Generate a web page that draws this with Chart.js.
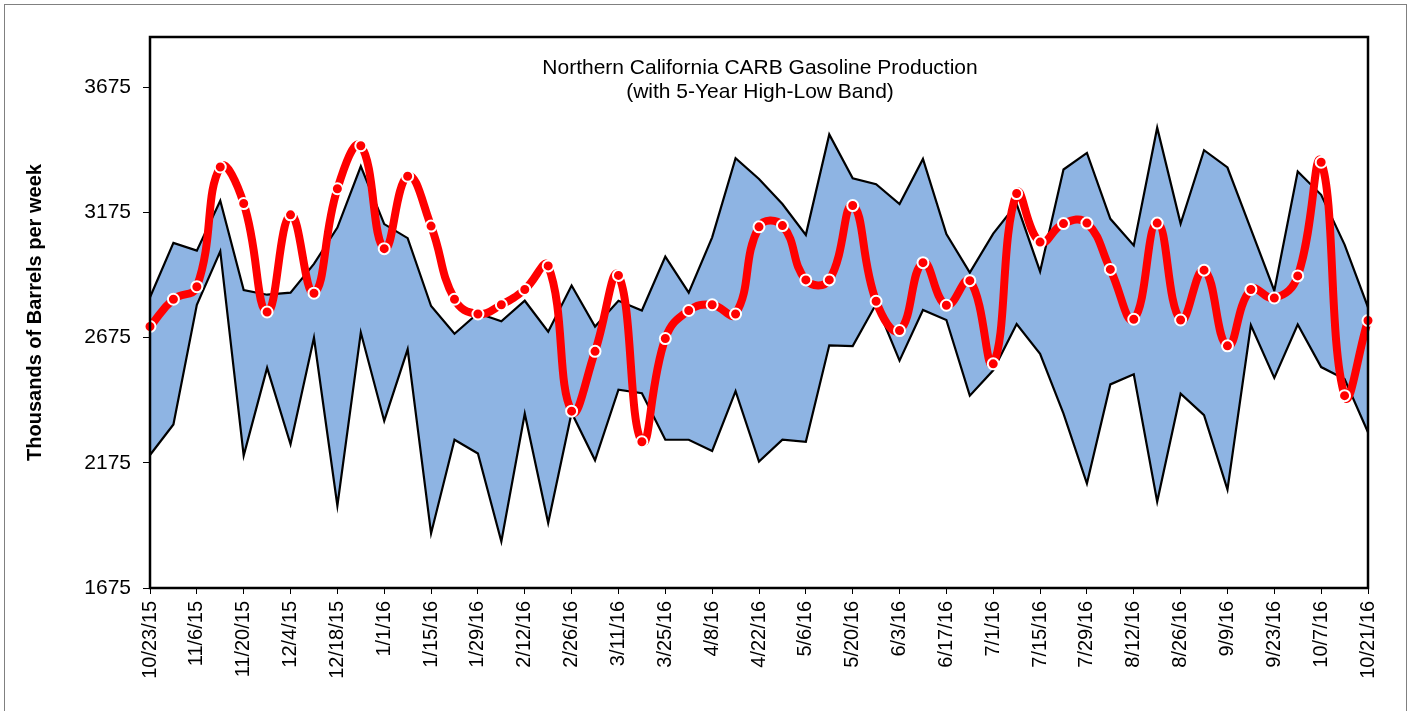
<!DOCTYPE html>
<html>
<head>
<meta charset="utf-8">
<title>Northern California CARB Gasoline Production</title>
<script src="https://cdn.jsdelivr.net/npm/chart.js@4.4.0/dist/chart.umd.min.js"></script>
<style>
  html, body { margin: 0; padding: 0; background: #fff; }
  #wrap { width: 1413px; height: 711px; }
</style>
</head>
<body>
<div id="wrap"><canvas id="carbChart" width="1413" height="711"></canvas></div>
<script>
// Weekly dates (every week, labels shown every 2nd)
const weeks = ['10/23/15', '10/30/15', '11/6/15', '11/13/15', '11/20/15', '11/27/15', '12/4/15', '12/11/15',
    '12/18/15', '12/25/15', '1/1/16', '1/8/16', '1/15/16', '1/22/16', '1/29/16', '2/5/16', '2/12/16',
    '2/19/16', '2/26/16', '3/4/16', '3/11/16', '3/18/16', '3/25/16', '4/1/16', '4/8/16', '4/15/16',
    '4/22/16', '4/29/16', '5/6/16', '5/13/16', '5/20/16', '5/27/16', '6/3/16', '6/10/16', '6/17/16',
    '6/24/16', '7/1/16', '7/8/16', '7/15/16', '7/22/16', '7/29/16', '8/5/16', '8/12/16', '8/19/16',
    '8/26/16', '9/2/16', '9/9/16', '9/16/16', '9/23/16', '9/30/16', '10/7/16', '10/14/16', '10/21/16'];

// Production, thousands of barrels per week
const production = [2719, 2828, 2878, 3356, 3210, 2777, 3165, 2852, 3269, 3441, 3030, 3319, 3120,
    2828, 2769, 2806, 2867, 2961, 2381, 2620, 2923, 2259, 2671, 2783, 2806, 2769, 3117,
    3122, 2905, 2905, 3202, 2820, 2703, 2974, 2804, 2902, 2570, 3250, 3056,
    3130, 3132, 2947, 2748, 3132, 2745, 2944, 2642, 2867, 2833, 2921, 3375, 2443, 2743];

// 5-year high / low band
const fiveYearHigh = [2836, 3053, 3022, 3221, 2865, 2846, 2854, 2969, 3114, 3359, 3128, 3072, 2801, 2690,
    2772, 2740, 2822, 2698, 2883, 2719, 2822, 2783, 2998, 2854, 3075, 3391, 3308,
    3208, 3085, 3486, 3311, 3287, 3208, 3388, 3088, 2934, 3090, 3208, 2939,
    3346, 3412, 3149, 3043, 3513, 3130, 3423, 3354, 3108, 2862, 3338, 3245, 3046, 2796];

const fiveYearLow = [2206, 2328, 2806, 3019, 2204, 2554, 2249, 2674, 2004, 2695, 2342, 2628, 1893, 2267,
    2212, 1861, 2371, 1935, 2375, 2185, 2467, 2453, 2267, 2267, 2222, 2461, 2180,
    2267, 2259, 2644, 2641, 2809, 2583, 2785, 2745, 2443, 2544, 2729, 2610,
    2371, 2092, 2488, 2528, 2020, 2451, 2365, 2068, 2724, 2514, 2727, 2557, 2509, 2297];

const yTicks = [1675, 2175, 2675, 3175, 3675];

const fontFamily = 'Arial, "Liberation Sans", sans-serif';

// Outer frame, plot border and the inner title
const framePlugin = {
    id: 'frame',
    beforeDraw(chart) {
        const ctx = chart.ctx;
        ctx.save();
        ctx.fillStyle = '#fff';
        ctx.fillRect(0, 0, chart.width, chart.height);
        ctx.strokeStyle = '#808080';
        ctx.lineWidth = 1;
        ctx.strokeRect(4.5, 4.5, 1402, 740);
        ctx.restore();
    },
    afterDraw(chart) {
        const ctx = chart.ctx;
        const a = chart.chartArea;
        ctx.save();
        ctx.strokeStyle = '#000';
        ctx.lineWidth = 2.5;
        ctx.strokeRect(a.left, a.top, a.right - a.left, a.bottom - a.top);
        ctx.fillStyle = '#000';
        ctx.font = '21px ' + fontFamily;
        ctx.textAlign = 'center';
        ctx.textBaseline = 'middle';
        const cx = (a.left + a.right) / 2 + 1;
        ctx.fillText('Northern California CARB Gasoline Production', cx, 68);
        ctx.fillText('(with 5-Year High-Low Band)', cx, 92);
        ctx.restore();
    }
};

const ctx = document.getElementById('carbChart').getContext('2d');
new Chart(ctx, {
    type: 'line',
    data: {
        labels: weeks,
        datasets: [{
            label: 'Production',
            data: production,
            borderColor: '#ff0000',
            borderWidth: 8,
            tension: 0.45,
            pointRadius: 5.5,
            pointBackgroundColor: '#ff0000',
            pointBorderColor: '#ffffff',
            pointBorderWidth: 2,
            fill: false,
            order: 0
        }, {
            label: '5-Year High',
            data: fiveYearHigh,
            borderColor: '#000',
            borderWidth: 2.2,
            tension: 0,
            pointRadius: 0,
            backgroundColor: '#8eb4e3',
            fill: '+1',
            order: 1
        }, {
            label: '5-Year Low',
            data: fiveYearLow,
            borderColor: '#000',
            borderWidth: 2.2,
            tension: 0,
            pointRadius: 0,
            fill: false,
            order: 2
        }]
    },
    options: {
        responsive: false,
        animation: false,
        devicePixelRatio: 1,
        layout: {
            padding: { top: 37, right: 45, left: 0, bottom: 0 }
        },
        plugins: {
            legend: { display: false },
            tooltip: { enabled: false },
            filler: { drawTime: 'beforeDatasetsDraw' }
        },
        scales: {
            x: {
                offset: false,
                grid: {
                    drawOnChartArea: false,
                    drawTicks: true,
                    tickLength: 6,
                    color: c => (c.index % 2 === 0 ? '#000' : 'rgba(0,0,0,0)'),
                    lineWidth: 1
                },
                border: { display: false },
                ticks: {
                    autoSkip: false,
                    maxRotation: 90,
                    minRotation: 90,
                    padding: 7,
                    color: '#000',
                    font: { family: fontFamily, size: 20 },
                    callback: (val, idx) => (idx % 2 === 0 ? weeks[idx] : '')
                },
                afterFit: scale => { scale.height = 123; }
            },
            y: {
                min: 1675,
                max: 3875,
                grid: {
                    drawOnChartArea: false,
                    drawTicks: true,
                    tickLength: 7,
                    color: '#000',
                    lineWidth: 1
                },
                border: { display: false },
                ticks: {
                    padding: 12,
                    color: '#000',
                    font: { family: fontFamily, size: 21 },
                    callback: v => String(v)
                },
                afterBuildTicks: scale => {
                    scale.ticks = yTicks.map(v => ({ value: v }));
                },
                title: {
                    display: true,
                    text: 'Thousands of Barrels per week',
                    color: '#000',
                    font: { family: fontFamily, size: 20, weight: 'bold' },
                    padding: { top: 23, bottom: 0 }
                },
                afterFit: scale => { scale.width = 150; }
            }
        }
    },
    plugins: [framePlugin]
});
</script>
</body>
</html>
